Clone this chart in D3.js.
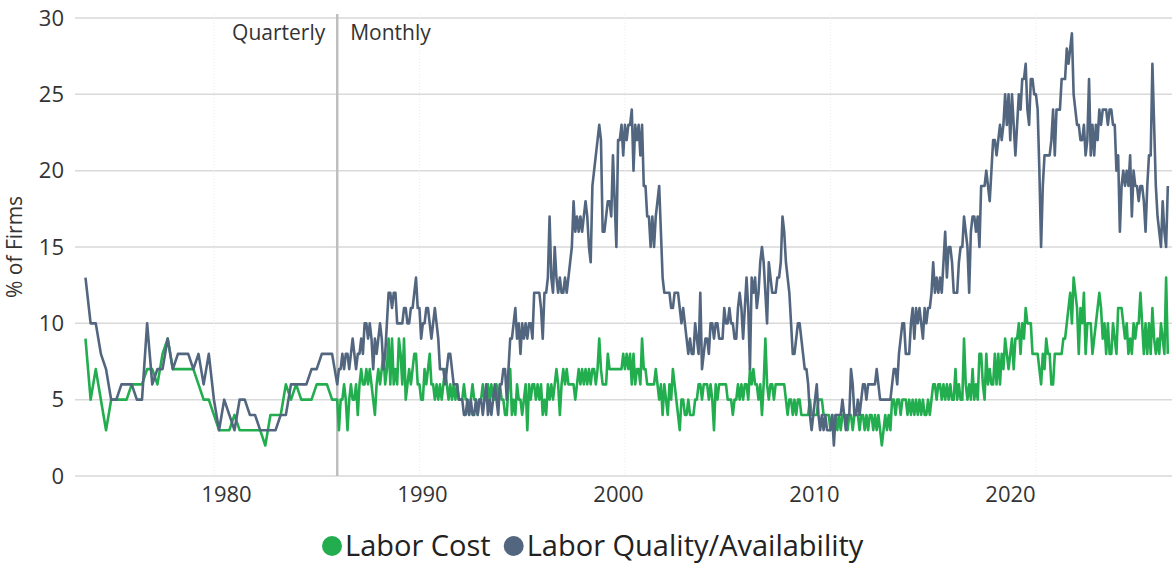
<!DOCTYPE html>
<html>
<head>
<meta charset="utf-8">
<script src="https://cdn.jsdelivr.net/npm/d3@7/dist/d3.min.js"></script>
<style>
  body { margin: 0; background: #fff; }
  svg { font-family: "Open Sans", "Noto Sans", sans-serif; }
</style>
</head>
<body>
<div id="chart"></div>
<script>
// quarterly survey 1973 Q4 - 1985 Q4, then monthly from Jan 1986
const quarterlyStart = 1973.75;
const monthlyStart = 1986;

const costQuarterly = [
  9, 5, 7, 5, 3, 5, 5, 5, 5, 6, 6, 6, 7, 7, 6, 8, 9, 7, 7, 7,
  7, 7, 6, 5, 5, 4, 3, 3, 3, 4, 3, 3, 3, 3, 3, 2, 4, 4, 4, 6,
  5, 6, 5, 5, 5, 6, 6, 6, 5,
];
const qualityQuarterly = [
  13, 10, 10, 8, 7, 5, 5, 6, 6, 6, 5, 5, 10, 6, 7, 7, 9, 7, 8, 8,
  8, 7, 8, 6, 8, 5, 3, 5, 4, 3, 5, 5, 4, 4, 3, 3, 3, 3, 4, 4,
  6, 6, 6, 6, 7, 7, 8, 8, 8,
];

const costMonthly = [
  5, 3, 5, 5, 6, 5, 3, 5, 6, 5, 5, 6, // 1986
  4, 6, 7, 6, 6, 7, 6, 7, 6, 5, 4, 6,
  7, 6, 7, 8, 6, 7, 9, 6, 9, 6, 7, 6,
  9, 8, 6, 9, 5, 6, 7, 6, 7, 8, 8, 6,
  6, 5, 5, 7, 6, 7, 8, 6, 6, 5, 6, 5, // 1990
  6, 5, 6, 7, 6, 5, 6, 5, 6, 5, 6, 5,
  5, 5, 6, 5, 5, 4, 5, 6, 5, 5, 4, 5,
  5, 6, 5, 5, 6, 5, 6, 5, 5, 6, 5, 6,
  5, 5, 4, 4, 6, 7, 4, 5, 4, 6, 5, 5,
  4, 5, 6, 3, 6, 5, 6, 6, 5, 6, 5, 6, // 1995
  4, 5, 4, 6, 5, 6, 5, 6, 7, 6, 4, 6,
  7, 6, 7, 6, 6, 6, 6, 5, 6, 7, 6, 7,
  6, 7, 6, 7, 6, 7, 7, 6, 7, 9, 7, 6,
  6, 6, 8, 7, 7, 7, 7, 7, 7, 7, 7, 8,
  7, 8, 7, 8, 6, 8, 6, 7, 7, 6, 9, 7, // 2000
  7, 6, 6, 6, 6, 6, 7, 6, 5, 6, 4, 6,
  5, 4, 6, 5, 7, 6, 5, 4, 3, 5, 5, 4,
  4, 5, 4, 4, 4, 5, 5, 6, 6, 5, 6, 6,
  6, 5, 6, 5, 3, 6, 5, 6, 6, 6, 6, 6,
  5, 5, 5, 4, 5, 5, 6, 5, 6, 5, 6, 6, // 2005
  5, 7, 6, 7, 6, 6, 5, 6, 4, 6, 9, 6,
  5, 6, 6, 5, 6, 6, 6, 6, 6, 6, 5, 4,
  5, 5, 4, 5, 4, 5, 5, 4, 4, 4, 4, 4,
  5, 4, 4, 4, 4, 5, 5, 5, 4, 4, 4, 4,
  3, 4, 3, 4, 3, 4, 3, 4, 4, 4, 3, 4, // 2010
  4, 3, 4, 4, 4, 3, 4, 4, 3, 4, 3, 4,
  4, 3, 4, 3, 4, 3, 2, 3, 4, 3, 4, 3,
  5, 5, 4, 5, 5, 4, 5, 5, 5, 4, 5, 4,
  5, 4, 5, 4, 5, 4, 5, 4, 4, 5, 4, 5,
  6, 6, 5, 6, 6, 5, 6, 5, 6, 5, 6, 5, // 2015
  5, 7, 5, 6, 5, 5, 9, 6, 5, 6, 5, 7,
  5, 6, 5, 8, 8, 6, 5, 8, 6, 7, 6, 6,
  8, 6, 8, 6, 8, 7, 9, 8, 7, 8, 9, 7,
  9, 9, 10, 8, 10, 9, 11, 10, 10, 10, 8, 8,
  8, 8, 7, 6, 8, 7, 9, 8, 8, 6, 6, 8, // 2020
  8, 8, 8, 8, 9, 9, 10, 11, 12, 10, 13, 12,
  11, 8, 11, 10, 12, 8, 10, 10, 10, 8, 9, 10,
  11, 12, 11, 9, 10, 8, 10, 8, 8, 10, 9, 8,
  11, 11, 11, 10, 9, 10, 8, 9, 8, 10, 9, 10,
  10, 12, 10, 8, 10, 8, 10, 8, 11, 9, 8, 9, // 2025
  8, 10, 9, 8, 13, 8,
];

const qualityMonthly = [
  6, 7, 7, 8, 7, 8, 8, 7, 8, 9, 8, 7, // 1986
  8, 8, 9, 8, 10, 10, 9, 10, 9, 7, 9, 8,
  9, 10, 9, 7, 8, 10, 12, 12, 11, 12, 12, 10,
  10, 10, 10, 11, 11, 10, 10, 11, 11, 12, 13, 11,
  11, 9, 10, 10, 11, 11, 10, 9, 10, 11, 10, 9, // 1990
  7, 7, 7, 6, 7, 8, 8, 7, 6, 6, 6, 5,
  5, 5, 4, 4, 5, 4, 5, 4, 4, 5, 4, 5,
  5, 4, 5, 6, 4, 5, 4, 5, 6, 5, 4, 6,
  6, 7, 7, 5, 7, 9, 9, 10, 11, 9, 10, 8,
  10, 9, 10, 9, 10, 10, 9, 12, 12, 12, 12, 11, // 1995
  9, 12, 12, 13, 17, 13, 12, 15, 13, 12, 13, 12,
  12, 13, 12, 13, 14, 15, 18, 16, 17, 16, 17, 16,
  17, 18, 17, 15, 14, 19, 20, 21, 22, 23, 22, 16,
  16, 17, 18, 18, 17, 21, 18, 15, 22, 22, 23, 21,
  23, 22, 23, 23, 24, 20, 23, 22, 23, 21, 23, 19, // 2000
  19, 17, 17, 15, 17, 15, 17, 18, 19, 16, 13, 12,
  12, 12, 12, 11, 11, 12, 12, 12, 11, 10, 11, 10,
  9, 8, 9, 8, 8, 10, 9, 8, 12, 7, 8, 9,
  9, 8, 10, 10, 9, 10, 10, 9, 9, 9, 11, 10,
  10, 11, 10, 10, 9, 9, 11, 12, 11, 9, 11, 13, // 2005
  11, 7, 13, 12, 13, 11, 12, 14, 15, 14, 12, 10,
  14, 13, 12, 12, 12, 13, 13, 14, 17, 16, 14, 13,
  12, 10, 8, 8, 9, 10, 10, 9, 8, 7, 7, 6,
  4, 3, 4, 5, 6, 4, 3, 4, 3, 4, 3, 3,
  3, 4, 2, 4, 4, 4, 4, 5, 4, 3, 4, 4, // 2010
  7, 6, 4, 4, 5, 4, 5, 6, 6, 5, 6, 6,
  6, 6, 6, 7, 6, 5, 5, 5, 5, 5, 5, 5,
  6, 7, 7, 6, 8, 9, 10, 10, 8, 8, 8, 10,
  11, 9, 11, 10, 11, 10, 9, 11, 10, 11, 11, 12,
  14, 12, 13, 12, 13, 12, 14, 16, 13, 15, 15, 14, // 2015
  12, 12, 12, 14, 15, 15, 17, 16, 15, 12, 16, 17,
  17, 16, 17, 15, 19, 19, 19, 20, 19, 18, 20, 22,
  22, 21, 22, 23, 22, 23, 25, 23, 25, 22, 25, 23,
  21, 23, 25, 24, 26, 26, 27, 24, 23, 26, 26, 25,
  25, 24, 20, 15, 19, 21, 21, 21, 21, 22, 24, 21, // 2020
  24, 24, 24, 26, 26, 26, 28, 27, 28, 29, 25, 24,
  23, 23, 22, 22, 23, 21, 22, 26, 21, 23, 21, 23,
  22, 24, 23, 24, 24, 24, 23, 24, 24, 23, 23, 20,
  21, 16, 19, 20, 19, 20, 19, 21, 17, 20, 19, 19,
  18, 19, 19, 18, 16, 19, 21, 21, 27, 23, 19, 17, // 2025
  16, 15, 18, 16, 15, 19,
];

const seriesNames = ["Labor Cost", "Labor Quality/Availability"];
const seriesColors = ["#22ad4f", "#53667f"];
const yTicks = [0, 5, 10, 15, 20, 25, 30];
const xLabelYears = [1980, 1990, 2000, 2010, 2020];
const periodLabels = ["Quarterly", "Monthly"];

const width = 1172;
const height = 565;
const plot = { left: 75, right: 1172, top: 18, bottom: 476 };

const svg = d3
  .select("#chart")
  .append("svg")
  .attr("width", width)
  .attr("height", height);

const x = d3
  .scaleLinear()
  .domain([1973.24, 2026.62])
  .range([plot.left, plot.right]);
// tick labels in the source sit on their own slightly compressed spacing
const xLabel = d3.scaleLinear().domain([1980, 2020]).range([226, 1010]);
const y = d3.scaleLinear().domain([0, 30]).range([plot.bottom, plot.top]);

function toPoints(quarterly, monthly) {
  const q = quarterly.map((v, i) => ({ t: quarterlyStart + i / 4, v }));
  const m = monthly.map((v, i) => ({ t: monthlyStart + i / 12, v }));
  return q.concat(m);
}
const series = [
  toPoints(costQuarterly, costMonthly),
  toPoints(qualityQuarterly, qualityMonthly),
];

// horizontal grid
svg
  .append("g")
  .selectAll("line")
  .data(yTicks)
  .join("line")
  .attr("x1", plot.left)
  .attr("x2", plot.right)
  .attr("y1", (d) => y(d))
  .attr("y2", (d) => y(d))
  .attr("stroke", "#d9d9d9")
  .attr("stroke-width", 1.5);

// faint dotted decade markers
svg
  .append("g")
  .selectAll("line")
  .data(xLabelYears)
  .join("line")
  .attr("x1", (d) => x(d))
  .attr("x2", (d) => x(d))
  .attr("y1", plot.top - 4)
  .attr("y2", plot.bottom)
  .attr("stroke", "#ececec")
  .attr("stroke-width", 1)
  .attr("stroke-dasharray", "1,2");

// y axis labels
const yAxis = svg
  .append("g")
  .attr("transform", `translate(${plot.left - 9},0)`)
  .call(d3.axisLeft(y).tickValues(yTicks).tickSize(0).tickPadding(2));
yAxis.select(".domain").remove();
yAxis
  .selectAll("text")
  .attr("font-size", 22)
  .attr("fill", "#333")
  .attr("font-family", '"Open Sans", sans-serif');

svg
  .append("text")
  .attr("transform", `translate(22,${(plot.top + plot.bottom) / 2}) rotate(-90)`)
  .attr("text-anchor", "middle")
  .attr("font-size", 21)
  .attr("fill", "#333")
  .text("% of Firms");

// x axis labels
const xAxis = svg
  .append("g")
  .attr("transform", `translate(0,${plot.bottom})`)
  .call(
    d3
      .axisBottom(xLabel)
      .tickValues(xLabelYears)
      .tickFormat(d3.format("d"))
      .tickSize(0)
      .tickPadding(10),
  );
xAxis.select(".domain").remove();
xAxis
  .selectAll("text")
  .attr("font-size", 22)
  .attr("fill", "#333")
  .attr("font-family", '"Open Sans", sans-serif');

// quarterly / monthly divider
const split = x(monthlyStart);
svg
  .append("line")
  .attr("x1", split)
  .attr("x2", split)
  .attr("y1", 14)
  .attr("y2", plot.bottom)
  .attr("stroke", "#bfbfbf")
  .attr("stroke-width", 2.5);

svg
  .append("text")
  .attr("x", split - 12)
  .attr("y", 40)
  .attr("text-anchor", "end")
  .attr("font-size", 21)
  .attr("fill", "#333")
  .text(periodLabels[0]);
svg
  .append("text")
  .attr("x", split + 13)
  .attr("y", 40)
  .attr("font-size", 21)
  .attr("fill", "#333")
  .text(periodLabels[1]);

// lines
const line = d3
  .line()
  .x((d) => x(d.t))
  .y((d) => y(d.v));

svg
  .append("g")
  .selectAll("path")
  .data(series)
  .join("path")
  .attr("d", line)
  .attr("fill", "none")
  .attr("stroke", (d, i) => seriesColors[i])
  .attr("stroke-width", 2.6)
  .attr("stroke-linejoin", "round");

// legend
const legend = svg.append("g").attr("transform", "translate(322,546)");
let lx = 0;
seriesNames.forEach((name, i) => {
  const item = legend.append("g").attr("transform", `translate(${lx},0)`);
  item
    .append("circle")
    .attr("cx", 10)
    .attr("cy", 0)
    .attr("r", 10)
    .attr("fill", seriesColors[i]);
  const t = item
    .append("text")
    .attr("x", 23)
    .attr("y", 0)
    .attr("dy", "0.35em")
    .attr("font-size", 29)
    .attr("fill", "#222")
    .text(name);
  lx += 23 + t.node().getComputedTextLength() + 13;
});
</script>
</body>
</html>
